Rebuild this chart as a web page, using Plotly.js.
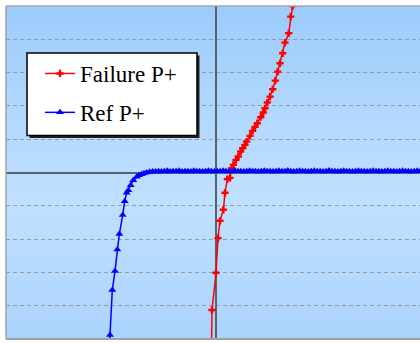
<!DOCTYPE html>
<html>
<head>
<meta charset="utf-8">
<script src="https://cdn.plot.ly/plotly-3.0.1.min.js"></script>
<style>
  html, body { margin: 0; padding: 0; background: #ffffff; overflow: hidden; }
  #bg { position: absolute; left: 6px; top: 6px; width: 414px; height: 333px;
        background: linear-gradient(to bottom, #9ccbfb 0%, #b3d9fe 35%, #c0e0ff 60%, #aad3fd 100%); }
  #chart { position: absolute; left: 0; top: 0; width: 420px; height: 343px; }
</style>
</head>
<body>
<div id="bg"></div>
<div id="chart"></div>
<script>
// Series names
const seriesNames = ["Failure P+", "Ref P+"];

// Failure P+ (red)
const failureX = [-0.107, -0.095, 0.000, 0.048, 0.095, 0.174, 0.214, 0.270, 0.333, 0.374, 0.413, 0.476, 0.531, 0.588, 0.635, 0.690, 0.730, 0.810, 0.870, 0.930, 0.983, 1.064, 1.126, 1.167, 1.221, 1.286, 1.350, 1.412, 1.469, 1.524, 1.588, 1.643, 1.731, 1.779, 1.826, 1.845];
const failureY = [-5.18, -4.13, -3.01, -1.97, -1.45, -1.12, -0.61, -0.20, -0.16, 0.13, 0.23, 0.38, 0.48, 0.63, 0.73, 0.83, 0.93, 1.10, 1.25, 1.37, 1.48, 1.66, 1.80, 1.93, 2.10, 2.28, 2.50, 2.76, 3.03, 3.28, 3.58, 3.90, 4.18, 4.68, 5.00, 5.20];

// Ref P+ (blue)
const refX = [-2.536, -2.524, -2.469, -2.405, -2.350, -2.302, -2.221, -2.174, -2.126, -2.088, -2.031, -1.969, -1.888, -1.833, -1.769, -1.714, -1.650,
  -1.58, -1.51, -1.44, -1.37, -1.30, -1.23, -1.16, -1.09, -1.02, -0.95, -0.88, -0.81, -0.74, -0.67, -0.60, -0.53, -0.46, -0.39, -0.32, -0.25,
  -0.18, -0.11, -0.04, 0.03, 0.10, 0.17, 0.24, 0.31, 0.38, 0.45, 0.52, 0.59, 0.66, 0.73, 0.80, 0.87, 0.94, 1.01, 1.08, 1.15, 1.22, 1.29,
  1.36, 1.43, 1.50, 1.57, 1.64, 1.71, 1.78, 1.85, 1.92, 1.99, 2.06, 2.13, 2.20, 2.27, 2.34, 2.41, 2.48, 2.55, 2.62, 2.69, 2.76, 2.83, 2.90,
  2.97, 3.04, 3.11, 3.18, 3.25, 3.32, 3.39, 3.46, 3.53, 3.60, 3.67, 3.74, 3.81, 3.88, 3.95, 4.02, 4.09, 4.16, 4.23, 4.30, 4.37, 4.44, 4.51,
  4.58, 4.65, 4.72, 4.79, 4.86];
const refY = [-5.18, -4.88, -3.53, -2.96, -2.31, -1.85, -1.28, -0.86, -0.61, -0.53, -0.38, -0.23, -0.13, -0.08, -0.05, -0.02, 0.00,
  0.02, 0.03, 0.03, 0.04, 0.03, 0.04, 0.05, 0.03, 0.04, 0.04, 0.05, 0.03, 0.04, 0.04, 0.03, 0.05, 0.04, 0.04, 0.03, 0.04,
  0.05, 0.04, 0.03, 0.04, 0.04, 0.05, 0.04, 0.03, 0.04, 0.05, 0.04, 0.04, 0.03, 0.04, 0.05, 0.04, 0.04, 0.03, 0.04, 0.05, 0.04, 0.04,
  0.03, 0.04, 0.05, 0.04, 0.04, 0.06, 0.04, 0.03, 0.04, 0.05, 0.04, 0.04, 0.03, 0.04, 0.05, 0.04, 0.04, 0.03, 0.04, 0.06, 0.04, 0.04, 0.03,
  0.04, 0.05, 0.04, 0.04, 0.03, 0.04, 0.05, 0.04, 0.04, 0.03, 0.04, 0.05, 0.04, 0.04, 0.03, 0.04, 0.05, 0.04, 0.04, 0.03, 0.04, 0.05, 0.04,
  0.04, 0.03, 0.04, 0.05, 0.04];

const traces = [
  {
    x: failureX, y: failureY, name: seriesNames[0], type: "scatter", mode: "lines+markers",
    line: { color: "#ff0000", width: 1.5 },
    marker: { color: "#ff0000", symbol: "cross", size: 6 },
    legendgroup: "a"
  },
  {
    x: refX, y: refY, name: seriesNames[1], type: "scatter", mode: "lines+markers",
    line: { color: "#0000ff", width: 1.5 },
    marker: { color: "#0000ff", symbol: "triangle-up", size: 7 },
    legendgroup: "b"
  }
];

const px = v => (v - 6) / 414;
const py = v => (339 - v) / 333;

const layout = {
  width: 420, height: 343,
  margin: { l: 6, r: 0, t: 6, b: 4, pad: 0 },
  paper_bgcolor: "rgba(0,0,0,0)",
  plot_bgcolor: "rgba(0,0,0,0)",
  showlegend: true,
  legend: {
    x: px(40), y: py(52), xanchor: "left", yanchor: "top",
    bgcolor: "rgba(0,0,0,0)", borderwidth: 0,
    font: { family: "Liberation Serif", size: 23, color: "#000000" },
    itemwidth: 30, tracegroupgap: 6
  },
  xaxis: {
    range: [-5, 4.857], showgrid: false, showticklabels: false, ticks: "",
    zeroline: true, zerolinecolor: "#56626e", zerolinewidth: 2, showline: false, fixedrange: true
  },
  yaxis: {
    range: [-5, 5], dtick: 1, showgrid: true, gridcolor: "#9a9a9a", gridwidth: 1, griddash: "4px,3px",
    showticklabels: false, ticks: "",
    zeroline: true, zerolinecolor: "#56626e", zerolinewidth: 2, showline: false, fixedrange: true
  },
  shapes: [
    { type: "rect", xref: "paper", yref: "paper", x0: px(29.5), x1: px(199.5), y0: py(138), y1: py(55.5),
      fillcolor: "#222222", line: { width: 0 }, layer: "above" },
    { type: "rect", xref: "paper", yref: "paper", x0: px(27), x1: px(197), y0: py(135.5), y1: py(53),
      fillcolor: "#ffffff", line: { color: "#000000", width: 1.5 }, layer: "above" },
    { type: "line", xref: "paper", yref: "paper", x0: 0, x1: 0, y0: 0, y1: 1, line: { color: "#a0a0a0", width: 1.5 }, layer: "above" },
    { type: "line", xref: "paper", yref: "paper", x0: 0, x1: 1, y0: 1, y1: 1, line: { color: "#a8a8a8", width: 1.5 }, layer: "above" },
    { type: "line", xref: "paper", yref: "paper", x0: 0, x1: 1, y0: 0, y1: 0, line: { color: "#a0a0a0", width: 2 }, layer: "above" }
  ]
};

Plotly.newPlot("chart", traces, layout, { displayModeBar: false, staticPlot: true });
</script>
</body>
</html>
